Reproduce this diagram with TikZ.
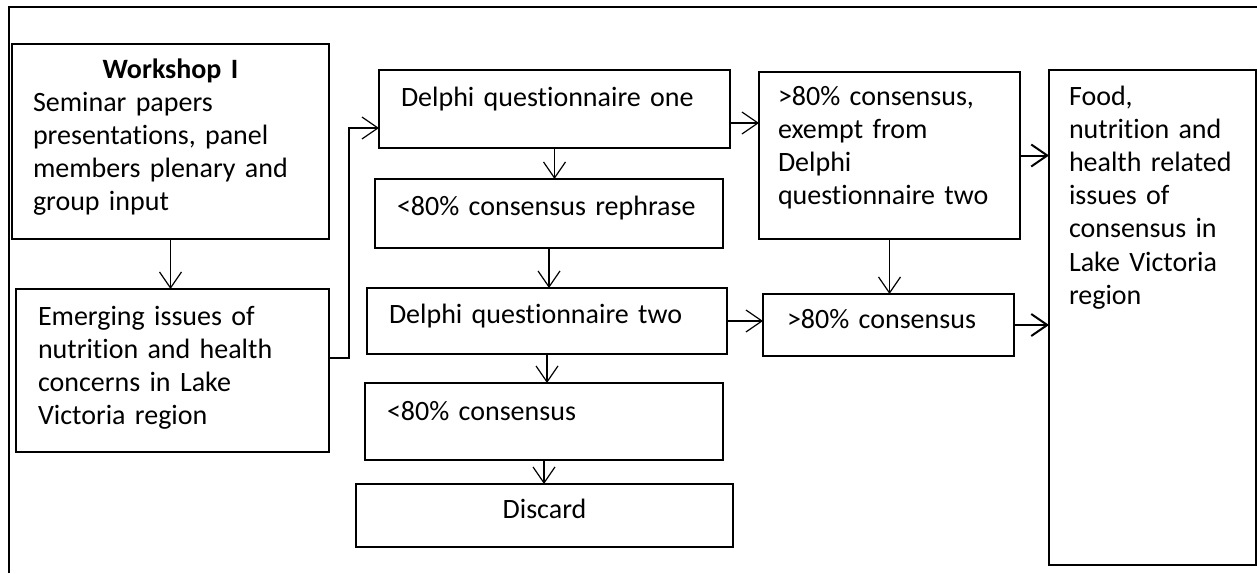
\documentclass[tikz,border=0pt]{standalone}
\usepackage{fontspec}
\setmainfont[Ligatures=NoCommon]{Carlito}
\usetikzlibrary{arrows.meta}

\begin{document}
\begin{tikzpicture}[x=0.5pt,y=-0.5pt,
  box/.style={draw,line width=0.75pt,anchor=north west,outer sep=0pt,inner ysep=0pt,
    align=left,font=\fontsize{14}{16.6}\selectfont},
  flow/.style={-{Straight Barb[length=8pt,width=11pt]},line width=0.6pt}]
\useasboundingbox (0,0) rectangle (1257,573);
\draw [line width=1.1pt] (9,573) -- (9,7) -- (1257,7);
\node [box,inner xsep=10.5pt,text width=137.5pt,text height=17pt,text depth=80.5pt] (w) at (12,44)
  {{\centering\textbf{Workshop I}\par}Seminar papers\\presentations, panel\\members plenary and\\group input};
\node [box,inner xsep=11pt,text width=134.5pt,text height=18pt,text depth=63.5pt] (e) at (16,289)
  {Emerging issues of\\nutrition and health\\concerns in Lake\\Victoria region};
\node [box,inner xsep=11pt,text width=153.5pt,text height=18pt,text depth=21pt] (q1) at (379,70)
  {Delphi questionnaire one};
\node [box,inner xsep=11pt,text width=152pt,text height=18pt,text depth=16.5pt] (r) at (375,179)
  {<80\% consensus rephrase};
\node [box,inner xsep=11pt,text width=158pt,text height=17.5pt,text depth=15.5pt] (q2) at (367,288)
  {Delphi questionnaire two};
\node [box,inner xsep=11pt,text width=157pt,text height=18.5pt,text depth=20pt] (lt) at (365,383)
  {<80\% consensus};
\node [box,align=center,inner xsep=0pt,text width=188.5pt,text height=17pt,text depth=14.5pt] (d) at (356,484)
  {Discard};
\node [box,inner xsep=9.5pt,text width=111.5pt,text height=16.5pt,text depth=67pt] (x) at (759,72)
  {>80\% consensus,\\exempt from\\Delphi\\questionnaire two};
\node [box,inner xsep=12pt,text width=101.5pt,text height=17pt,text depth=14pt] (gt) at (763,294)
  {>80\% consensus};
\node [box,inner xsep=10pt,text width=83.5pt,text height=17.5pt,text depth=230pt] (f) at (1049,70)
  {Food,\\nutrition and\\health related\\issues of\\consensus in\\Lake Victoria\\region};
% arrows
\draw [flow] (w.south) -- (w.south |- e.north);
\draw [flow] ([yshift=6.25pt]e.east) -- ++(10pt,0) |- ([yshift=-9.5pt]q1.west);
\draw [flow] (q1.south) -- (q1.south |- r.north);
\draw [flow] (r.south) -- (r.south |- q2.north);
\draw [flow] (q2.south) -- (q2.south |- lt.north);
\draw [flow] (lt.south) -- (lt.south |- d.north);
\draw [flow] ([yshift=-7pt]q1.east) -- ([yshift=-7pt]q1.east -| x.west);
\draw [flow] (x.south) -- (x.south |- gt.north);
\draw [flow] (q2.east) -- (q2.east -| gt.west);
\draw [flow,line width=1pt] (x.east) -- (x.east -| f.west);
\draw [flow,line width=1pt] (gt.east) -- (gt.east -| f.west);
\end{tikzpicture}
\end{document}
